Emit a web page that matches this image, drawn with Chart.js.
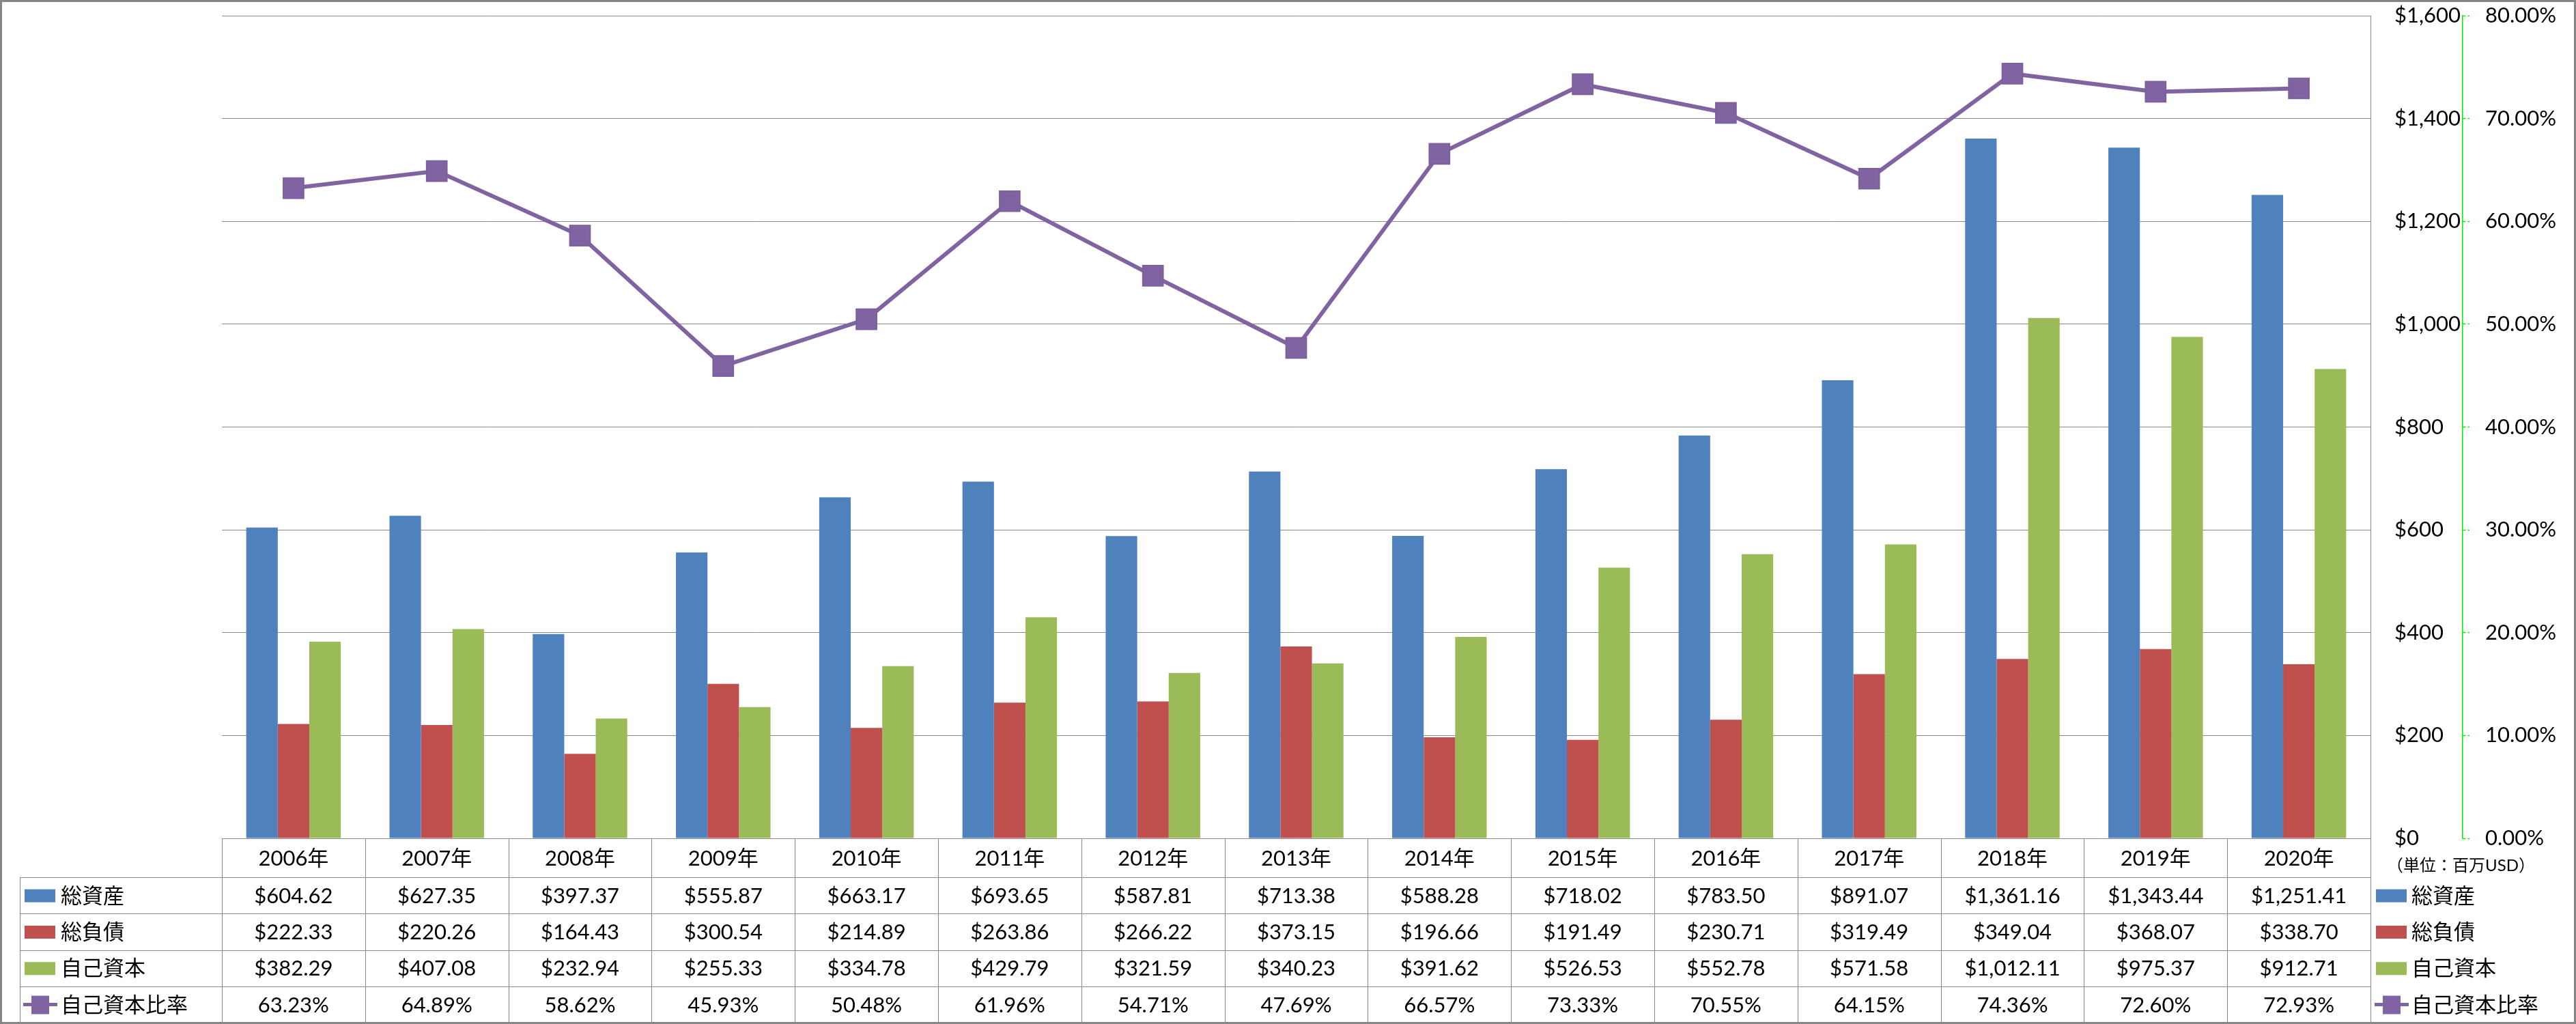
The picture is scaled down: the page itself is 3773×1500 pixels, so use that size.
<!DOCTYPE html>
<html>
<head>
<meta charset="utf-8">
<script src="https://cdn.jsdelivr.net/npm/chart.js@4.4.0/dist/chart.umd.min.js"></script>
<style>
  html, body { margin: 0; padding: 0; background: #fff; }
  #wrap { width: 3773px; height: 1500px; position: relative; }
</style>
</head>
<body>
<div id="wrap"><canvas id="finChart"></canvas></div>
<script>
// データ（単位：百万USD）
var years = ['2006年', '2007年', '2008年', '2009年', '2010年', '2011年', '2012年', '2013年', '2014年', '2015年', '2016年', '2017年', '2018年', '2019年', '2020年'];
var totalAssets = [604.62, 627.35, 397.37, 555.87, 663.17, 693.65, 587.81, 713.38, 588.28, 718.02, 783.50, 891.07, 1361.16, 1343.44, 1251.41];
var totalLiabilities = [222.33, 220.26, 164.43, 300.54, 214.89, 263.86, 266.22, 373.15, 196.66, 191.49, 230.71, 319.49, 349.04, 368.07, 338.70];
var equity = [382.29, 407.08, 232.94, 255.33, 334.78, 429.79, 321.59, 340.23, 391.62, 526.53, 552.78, 571.58, 1012.11, 975.37, 912.71];
var equityRatio = [63.23, 64.89, 58.62, 45.93, 50.48, 61.96, 54.71, 47.69, 66.57, 73.33, 70.55, 64.15, 74.36, 72.60, 72.93];
var seriesNames = ['総資産', '総負債', '自己資本', '自己資本比率'];
var unitLabel = '（単位：百万USD）';

var FONT = '"Lato", "Noto Sans CJK JP", sans-serif';
var colors = ['#4F81BD', '#C0504D', '#9BBB59', '#8064A2'];
var lineGray = '#898989';

function fmtMoney(v) {
    return '$' + v.toLocaleString('en-US', { minimumFractionDigits: 2, maximumFractionDigits: 2 });
}

// 軸ラベルの上下余白をなくす（プロット領域の位置を固定）
function fixAxis(width) {
    return function (s) {
        s.width = width;
        s.paddingTop = 0;
        s.paddingBottom = 0;
    };
}

// 下のデータテーブルと凡例を描く
var tablePlugin = {
    id: 'dataTable',
    afterDraw: function (chart) {
        var ctx = chart.ctx;
        var xs = chart.scales.x;
        var area = chart.chartArea;
        var colW = xs.getPixelForValue(1) - xs.getPixelForValue(0);
        var headerH = 57;
        var rowH = 53.3;
        var tableLeft = 29;
        var top = area.bottom;
        var rowTops = [top, top + headerH];
        for (var r = 1; r <= 4; r++) rowTops.push(top + headerH + r * rowH);
        var bottom = rowTops[5];

        ctx.save();
        ctx.strokeStyle = lineGray;
        ctx.lineWidth = 1;
        ctx.beginPath();
        // 横線
        for (var i = 1; i <= 4; i++) {
            var y = Math.round(rowTops[i]) + 0.5;
            ctx.moveTo(tableLeft, y);
            ctx.lineTo(area.right, y);
        }
        // 縦線
        for (var c = 0; c <= years.length; c++) {
            var xx = Math.round(area.left + c * colW) + 0.5;
            ctx.moveTo(xx, top);
            ctx.lineTo(xx, bottom);
        }
        ctx.moveTo(tableLeft + 0.5, rowTops[1]);
        ctx.lineTo(tableLeft + 0.5, bottom);
        ctx.stroke();

        // テキスト
        ctx.fillStyle = '#000';
        ctx.font = '31px ' + FONT;
        ctx.textAlign = 'center';
        ctx.textBaseline = 'middle';
        var rows = [
            totalAssets.map(fmtMoney),
            totalLiabilities.map(fmtMoney),
            equity.map(fmtMoney),
            equityRatio.map(function (v) { return v.toFixed(2) + '%'; })
        ];
        for (var k = 0; k < years.length; k++) {
            var cx = xs.getPixelForValue(k);
            ctx.fillText(years[k], cx, (rowTops[0] + rowTops[1]) / 2 + 1);
            for (var j = 0; j < 4; j++) {
                ctx.fillText(rows[j][k], cx, (rowTops[j + 1] + rowTops[j + 2]) / 2 + 1);
            }
        }

        // 凡例（左と右）
        function legendKey(x, cy, idx) {
            if (idx < 3) {
                ctx.fillStyle = colors[idx];
                ctx.fillRect(x, cy - 9, 45, 19);
            } else {
                ctx.strokeStyle = colors[3];
                ctx.lineWidth = 5;
                ctx.beginPath();
                ctx.moveTo(x - 2, cy);
                ctx.lineTo(x + 48, cy);
                ctx.stroke();
                ctx.fillStyle = colors[3];
                ctx.fillRect(x + 10, cy - 13, 26, 27);
            }
        }
        ctx.textAlign = 'left';
        for (var m = 0; m < 4; m++) {
            var cy = (rowTops[m + 1] + rowTops[m + 2]) / 2;
            legendKey(36, cy, m);
            legendKey(3480, cy, m);
            ctx.fillStyle = '#000';
            ctx.fillText(seriesNames[m], 89, cy + 1);
            ctx.fillText(seriesNames[m], 3532, cy + 1);
        }

        ctx.font = '24px ' + FONT;
        ctx.fillText(unitLabel, 3496, 1268);

        // 外枠
        ctx.strokeStyle = '#868686';
        ctx.lineWidth = 3;
        ctx.strokeRect(1.5, 1.5, chart.width - 3, chart.height - 3);
        ctx.restore();
    }
};

var ctx = document.getElementById('finChart').getContext('2d');
var finChart = new Chart(ctx, {
    type: 'bar',
    data: {
        labels: years,
        datasets: [
            { label: seriesNames[0], data: totalAssets, backgroundColor: colors[0], yAxisID: 'y', order: 1 },
            { label: seriesNames[1], data: totalLiabilities, backgroundColor: colors[1], yAxisID: 'y', order: 1 },
            { label: seriesNames[2], data: equity, backgroundColor: colors[2], yAxisID: 'y', order: 1 },
            {
                type: 'line',
                label: seriesNames[3],
                data: equityRatio,
                yAxisID: 'y1',
                order: 0,
                borderColor: colors[3],
                backgroundColor: colors[3],
                borderWidth: 6,
                pointStyle: 'rect',
                pointRadius: 21,
                pointBorderWidth: 2,
                pointBorderColor: '#7d5fa0',
                pointBackgroundColor: colors[3],
                tension: 0
            }
        ]
    },
    options: {
        responsive: true,
        maintainAspectRatio: false,
        animation: false,
        devicePixelRatio: 1,
        layout: { padding: { left: 325, top: 22, right: 0, bottom: 272 } },
        datasets: {
            bar: { categoryPercentage: 0.66, barPercentage: 1.0 }
        },
        plugins: {
            legend: { display: false },
            tooltip: { enabled: false }
        },
        scales: {
            x: { display: false, offset: true },
            y: {
                position: 'right',
                min: 0,
                max: 1600,
                afterFit: fixAxis(135),
                ticks: {
                    stepSize: 200,
                    padding: 35,
                    color: '#000',
                    font: { family: FONT, size: 31 },
                    callback: function (v) { return '$' + v.toLocaleString('en-US'); }
                },
                grid: { color: lineGray, lineWidth: 1, drawTicks: false },
                border: { display: true, color: lineGray, width: 1 }
            },
            y1: {
                position: 'right',
                min: 0,
                max: 80,
                afterFit: fixAxis(166),
                ticks: {
                    stepSize: 10,
                    padding: 23,
                    color: '#000',
                    font: { family: FONT, size: 31 },
                    callback: function (v) { return v.toFixed(2) + '%'; }
                },
                grid: {
                    drawOnChartArea: false,
                    drawTicks: true,
                    tickLength: 10,
                    tickColor: '#00ee00',
                    tickBorderDash: [4, 3],
                    tickWidth: 1.5
                },
                border: { display: true, color: '#00ee00', width: 1.5, dash: [6, 4] }
            }
        }
    },
    plugins: [tablePlugin]
});
</script>
</body>
</html>
